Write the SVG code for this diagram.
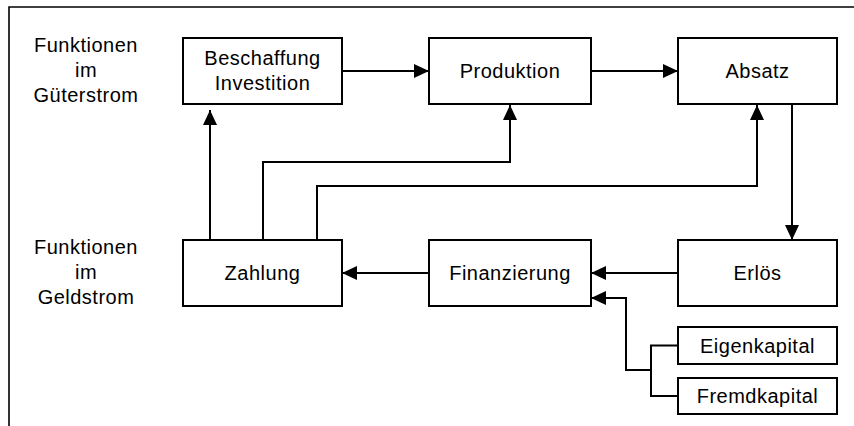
<svg xmlns="http://www.w3.org/2000/svg" width="854" height="426" viewBox="0 0 854 426">
<style>
.box{fill:#fff;stroke:#000;stroke-width:2}
.t{font-family:"Liberation Sans",Arial,sans-serif;font-size:20px;fill:#000;text-anchor:middle;letter-spacing:0.5px}
.c{fill:none;stroke:#000;stroke-width:2}
.f{fill:none;stroke:#000;stroke-width:1.6}
</style>
<defs>
<marker id="ah" markerUnits="userSpaceOnUse" markerWidth="16" markerHeight="14" refX="15" refY="7" orient="auto">
<path d="M0,0 L15,7 L0,14 Z" fill="#000"/>
</marker>
</defs>
<rect width="854" height="426" fill="#fff"/>
<g id="frame">
<path class="f" d="M9,426 V7 H854"/>
</g>
<g id="labels">
<text class="t" x="86" y="52">Funktionen</text>
<text class="t" x="86" y="77">im</text>
<text class="t" x="86" y="102">Güterstrom</text>
<text class="t" x="86" y="254">Funktionen</text>
<text class="t" x="86" y="279">im</text>
<text class="t" x="86" y="304">Geldstrom</text>
</g>
<g id="connectors">
<path class="c" d="M342,71 H429" marker-end="url(#ah)"/>
<path class="c" d="M591,71 H678" marker-end="url(#ah)"/>
<path class="c" d="M792,104 V240" marker-end="url(#ah)"/>
<path class="c" d="M678,273 H591" marker-end="url(#ah)"/>
<path class="c" d="M429,273 H342" marker-end="url(#ah)"/>
<path class="c" d="M210,240 V110" marker-end="url(#ah)"/>
<path class="c" d="M263,240 V162 H510 V105" marker-end="url(#ah)"/>
<path class="c" d="M317,240 V186 H757 V105" marker-end="url(#ah)"/>
<path class="c" d="M678,345.5 H651 V396 H678"/>
<path class="c" d="M651,370 H626 V298 H591" marker-end="url(#ah)"/>
</g>
<g id="beschaffung">
<rect class="box" x="183" y="38" width="159" height="66"/>
<text class="t" x="262.5" y="64.5">Beschaffung</text>
<text class="t" x="262.5" y="90">Investition</text>
</g>
<g id="produktion">
<rect class="box" x="429" y="38" width="162" height="66"/>
<text class="t" x="510" y="78">Produktion</text>
</g>
<g id="absatz">
<rect class="box" x="678" y="38" width="159" height="66"/>
<text class="t" x="757.5" y="78">Absatz</text>
</g>
<g id="zahlung">
<rect class="box" x="183" y="240" width="159" height="66"/>
<text class="t" x="262.5" y="280">Zahlung</text>
</g>
<g id="finanzierung">
<rect class="box" x="429" y="240" width="162" height="66"/>
<text class="t" x="510" y="280">Finanzierung</text>
</g>
<g id="erloes">
<rect class="box" x="678" y="240" width="159" height="66"/>
<text class="t" x="757.5" y="280">Erlös</text>
</g>
<g id="eigenkapital">
<rect class="box" x="678" y="327" width="159" height="37"/>
<text class="t" x="757.5" y="353">Eigenkapital</text>
</g>
<g id="fremdkapital">
<rect class="box" x="678" y="378" width="159" height="36"/>
<text class="t" x="757.5" y="403">Fremdkapital</text>
</g>
</svg>
